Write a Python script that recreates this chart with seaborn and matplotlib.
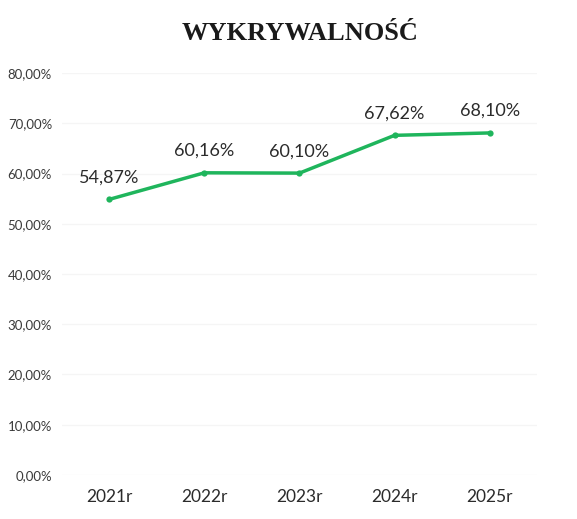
import matplotlib
matplotlib.use("Agg")
import matplotlib.pyplot as plt
import seaborn as sns
import pandas as pd

# dane z wykresu
lata = ["2021r", "2022r", "2023r", "2024r", "2025r"]
wykrywalnosc = [54.87, 60.16, 60.10, 67.62, 68.10]
y_ticks = [0, 10, 20, 30, 40, 50, 60, 70, 80]

df = pd.DataFrame({"rok": lata, "wartosc": wykrywalnosc})

sns.set_style("white")
plt.rcParams["font.family"] = ["Lato", "DejaVu Sans"]

fig = plt.figure(figsize=(5.77, 5.19), dpi=100)
ax = fig.add_axes([0.107, 0.085, 0.824, 0.774])

sns.lineplot(data=df, x="rok", y="wartosc", ax=ax, color="#1fb55c",
             linewidth=2.5, marker="o", markersize=4.5, markeredgewidth=0,
             sort=False)

for i, v in enumerate(wykrywalnosc):
    ax.annotate(f"{v:.2f}%".replace(".", ","), (i, v), xytext=(0, 10),
                textcoords="offset points", ha="center", va="bottom",
                fontsize=13, color="#2b2b2b")

ax.set_xlim(-0.5, 4.5)
ax.set_ylim(0, 80)
ax.set_yticks(y_ticks)
ax.set_yticklabels([f"{t},00%" for t in y_ticks], fontsize=9.5, color="#3a3a3a")
ax.tick_params(axis="x", labelsize=12.5, colors="#2b2b2b", pad=10, length=0)
ax.tick_params(axis="y", length=0, pad=7)
ax.yaxis.grid(True, color="#f5f5f5", linewidth=1)
ax.set_xlabel("")
ax.set_ylabel("")
sns.despine(ax=ax, left=True, bottom=True)

fig.text(0.52, 0.935, "WYKRYWALNOŚĆ", ha="center", va="center",
         fontsize=19, fontweight="bold", family="Liberation Serif", color="#1a1a1a")

fig.savefig("out.png", dpi=100, facecolor="white")
